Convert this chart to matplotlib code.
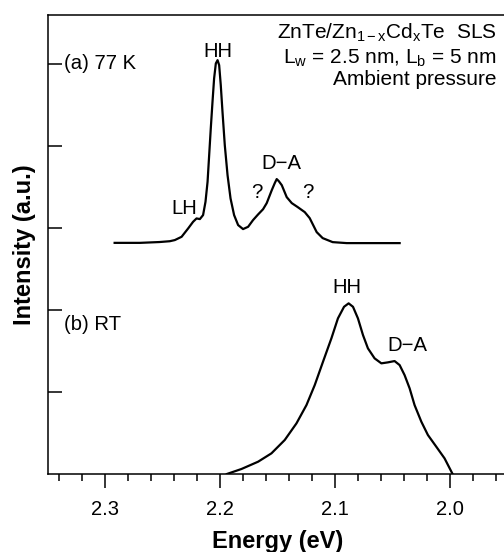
import matplotlib
matplotlib.use("Agg")
import matplotlib.pyplot as plt
from matplotlib.ticker import MultipleLocator

plt.rcParams['font.family'] = ['Liberation Sans', 'DejaVu Sans']
plt.rcParams['mathtext.fontset'] = 'custom'
plt.rcParams['mathtext.rm'] = 'Liberation Sans'
plt.rcParams['mathtext.it'] = 'Liberation Sans:italic'

# (a) 77 K spectrum
energy_77k = [2.292, 2.270, 2.253, 2.244, 2.2396, 2.2337, 2.2280, 2.2237, 2.2207, 2.2178,
              2.2150, 2.2129, 2.2111, 2.2097, 2.2083, 2.2068, 2.2054, 2.2039, 2.2024, 2.2010,
              2.1996, 2.1981, 2.1961, 2.1937, 2.1911, 2.1880, 2.1845, 2.1802, 2.1758, 2.1715,
              2.1671, 2.1628, 2.1596, 2.1552, 2.1526, 2.1509, 2.1491, 2.1465, 2.1422, 2.1378,
              2.1326, 2.1265, 2.1222, 2.1187, 2.1161, 2.1109, 2.1022, 2.0900, 2.0439]
intens_77k = [2.82, 2.82, 2.83, 2.84, 2.854, 2.894, 2.996, 3.077, 3.118, 3.110,
              3.159, 3.321, 3.565, 3.890, 4.216, 4.540, 4.826, 5.009, 5.049, 4.988,
              4.744, 4.418, 4.012, 3.646, 3.362, 3.159, 3.037, 2.988, 3.016, 3.098,
              3.167, 3.230, 3.305, 3.463, 3.549, 3.598, 3.573, 3.524, 3.378, 3.305,
              3.256, 3.195, 3.122, 3.024, 2.951, 2.878, 2.829, 2.817, 2.817]

# (b) room temperature spectrum
energy_rt = [2.1943, 2.1816, 2.1671, 2.1555, 2.1439, 2.1337, 2.1250, 2.1178, 2.1106, 2.1033,
             2.0976, 2.0923, 2.0883, 2.0845, 2.0802, 2.0758, 2.0715, 2.0657, 2.0598, 2.0541,
             2.0483, 2.0439, 2.0396, 2.0352, 2.0309, 2.0250, 2.0193, 2.0120, 2.0048, 1.9978]
intens_rt = [0.000, 0.061, 0.150, 0.252, 0.415, 0.618, 0.841, 1.085, 1.370, 1.655,
             1.899, 2.040, 2.082, 2.040, 1.899, 1.695, 1.533, 1.411, 1.350, 1.362,
             1.378, 1.329, 1.207, 1.045, 0.841, 0.638, 0.476, 0.333, 0.191, 0.000]

fig = plt.figure(figsize=(5.04, 5.52), dpi=100)
ax = fig.add_axes([48 / 504, 78 / 552, 459.5 / 504, 459 / 552])

ax.plot(energy_77k, intens_77k, color='black', lw=1.6, solid_joinstyle='round')
ax.plot(energy_rt, intens_rt, color='black', lw=1.6, solid_joinstyle='round')

ax.set_xlim(2.35, 1.95)
ax.set_ylim(0, 5.6)

ax.xaxis.set_minor_locator(MultipleLocator(0.02))
ax.set_xticks([2.3, 2.2, 2.1, 2.0])
ax.set_xticklabels(['2.3', '2.2', '2.1', '2.0'])
ax.set_yticks([1, 2, 3, 4, 5])
ax.set_yticklabels([])

ax.tick_params(axis='x', which='major', direction='out', length=10, width=1.1,
               labelsize=14.5, pad=8.5)
ax.tick_params(axis='x', which='minor', direction='out', length=5, width=1.1)
ax.tick_params(axis='y', which='major', direction='in', length=10, width=1.1)
for s in ax.spines.values():
    s.set_linewidth(1.1)

ax.set_xlabel('Energy (eV)', fontsize=17, fontweight='bold')
ax.set_ylabel('Intensity (a.u.)', fontsize=17, fontweight='bold')
ax.xaxis.set_label_coords(0.5, -0.122)
ax.yaxis.set_label_coords(-0.026, 0.5)

fs = 14.6
ax.text(2.336, 5.01, '(a) 77 K', fontsize=fs, ha='left', va='center')
ax.text(2.336, 1.82, '(b) RT', fontsize=fs, ha='left', va='center')
ax.text(2.202, 5.16, 'HH', fontsize=fs, ha='center', va='center')
ax.text(2.231, 3.24, 'LH', fontsize=fs, ha='center', va='center')
ax.text(2.147, 3.79, 'D\u2212A', fontsize=fs, ha='center', va='center')
ax.text(2.168, 3.44, '?', fontsize=fs, ha='center', va='center')
ax.text(2.124, 3.44, '?', fontsize=fs, ha='center', va='center')
ax.text(2.090, 2.27, 'HH', fontsize=fs, ha='center', va='center')
ax.text(2.037, 1.57, 'D\u2212A', fontsize=fs, ha='center', va='center')

ax.text(1.9596, 5.305, r'ZnTe/Zn$_{\mathrm{1-x}}$Cd$_{\mathrm{x}}$Te  SLS',
        fontsize=15, ha='right', va='baseline')
ax.text(1.9596, 5.01, r'L$_{\mathrm{w}}$ = 2.5 nm, L$_{\mathrm{b}}$ = 5 nm',
        fontsize=15, ha='right', va='baseline')
ax.text(1.9596, 4.744, 'Ambient pressure', fontsize=15, ha='right', va='baseline')

fig.savefig('out.png', dpi=100)
